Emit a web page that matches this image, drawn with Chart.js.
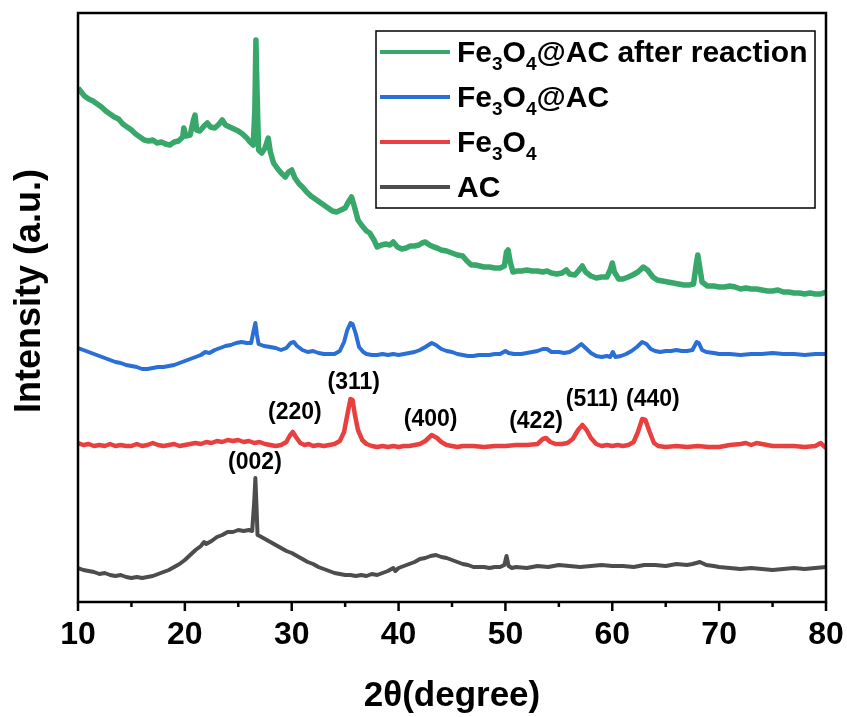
<!DOCTYPE html>
<html><head><meta charset="utf-8">
<script src="https://cdn.jsdelivr.net/npm/chart.js@4.4.1/dist/chart.umd.min.js"></script>
<style>html,body{margin:0;padding:0;background:#fff;}</style>
</head><body>
<canvas id="c" width="847" height="717"></canvas>
<script>
// ---- Data (2θ in degrees, intensity in arbitrary units) ----
const twoThetaAC = [10,10.5,11,11.5,12,12.5,13,13.5,14,14.5,15,15.5,16,16.5,17,17.5,18,18.5,19,19.5,20,20.5,21,21.5,21.8,22,22.5,23,23.5,24,24.5,25,25.5,26,26.3,26.5,26.6,26.7,26.8,27,27.5,28,28.5,29,29.5,30,30.5,31,31.5,32,32.5,33,33.5,34,34.5,35,35.5,36,36.5,37,37.5,38,38.5,39,39.5,39.7,40,40.5,41,41.5,42,42.5,43,43.5,44,44.5,45,45.5,46,46.5,47,47.5,48,48.5,49,49.5,49.9,50.1,50.3,50.6,51,52,53,54,55,56,57,58,59,60,61,62,63,64,65,66,67,67.5,68.2,68.8,69.5,70,71,72,73,74,75,76,77,78,79,80];
const intensityAC = [34,32,31,30,28,29,27,26,27,25,24,25,24,25,26,28,30,32,35,38,42,47,52,56,60,58,61,65,67,70,70,72,71,72,71,102,124,97,67,66,63,60,57,54,51,49,46,43,40,38,35,33,31,29,28,27,27,26,27,26,28,27,29,31,34,31,34,36,38,40,43,44,46,47,45,44,42,40,38,37,35,35,35,34,35,35,37,46,36,34,35,34,36,35,37,36,35,36,37,36,36,35,37,37,36,38,37,38,40,37,36,35,34,33,34,33,32,33,34,33,34,35];

const twoThetaFe3O4 = [10,10.5,11,11.5,12,12.5,13,13.5,14,14.5,15,15.5,16,16.5,17,17.5,18,18.5,19,19.5,20,20.5,21,21.5,22,22.5,23,23.5,24,24.5,25,25.5,26,26.5,27,27.5,28,28.5,29,29.5,29.8,30.1,30.4,30.8,31.2,31.6,32,32.5,33,33.5,34,34.5,34.9,35.2,35.5,35.7,35.9,36.2,36.6,37,37.5,38,38.5,39,39.5,40,40.5,41,41.5,42,42.5,43.1,43.6,44,44.5,45,45.5,46,47,48,49,50,51,52,53,53.5,53.8,54.2,54.7,55.3,55.8,56.3,56.8,57.2,57.6,58,58.5,59,59.5,60,60.5,61,61.5,62,62.4,62.8,63.1,63.5,63.9,64.3,65,66,67,68,69,70,71,72,72.5,73,73.5,74,75,76,77,78,79,79.5,80];
const intensityFe3O4 = [159,157,158,156,157,156,158,156,157,156,156,158,156,157,159,157,156,157,158,156,157,158,159,158,160,159,161,160,162,161,162,160,161,159,160,158,157,156,157,160,166,170,165,159,157,158,156,157,156,157,158,161,170,187,203,202,188,172,162,158,156,155,156,155,156,155,156,156,157,158,161,167,164,160,157,156,155,156,156,155,156,156,157,157,158,163,164,160,158,158,159,163,172,177,172,164,158,156,157,156,157,156,157,160,170,183,182,170,159,156,155,156,155,156,155,155,157,158,159,157,159,158,156,156,156,155,156,159,154];

const twoThetaFe3O4AC = [10,10.5,11,11.5,12,12.5,13,13.5,14,14.5,15,15.5,16,16.5,17,17.5,18,18.5,19,19.5,20,20.5,21,21.5,21.9,22.3,22.8,23.3,23.8,24.3,24.8,25.3,25.8,26.2,26.45,26.6,26.75,26.9,27.4,28,28.5,29,29.5,29.9,30.2,30.5,31,31.5,32,32.5,33,33.5,34,34.5,34.9,35.2,35.5,35.7,36,36.3,36.7,37,37.5,38,38.5,39,39.5,40,40.5,41,41.5,42,42.5,43.1,43.5,44,44.5,45,45.5,46,46.5,47,47.5,48,48.5,49,49.5,50,50.3,50.8,51.5,52,52.5,53,53.5,53.9,54.3,55,55.5,56,56.5,57.1,57.5,58,58.5,59,59.5,59.8,60.05,60.3,60.8,61.3,61.8,62.3,62.8,63.2,63.6,64,64.5,65,65.5,66,66.5,67,67.5,67.9,68.1,68.4,68.8,69.5,70,71,72,73,74,75,76,77,78,79,80];
const intensityFe3O4AC = [254,252,250,248,246,244,242,240,239,237,236,235,233,233,234,235,235,236,237,239,241,243,245,247,250,249,252,254,256,257,259,260,259,259,272,279,267,258,256,255,254,252,254,259,260,256,252,250,251,249,248,248,248,251,260,272,279,278,268,255,250,248,247,247,248,247,248,247,248,249,250,252,255,259,257,253,251,250,248,247,246,246,247,247,247,248,248,251,249,248,248,249,250,251,253,253,250,250,249,250,253,258,254,249,246,245,246,245,250,245,246,248,251,255,260,258,253,251,250,251,251,252,251,251,252,260,259,252,250,249,248,248,247,248,248,249,248,248,247,248,248];

const twoThetaAfter = [10,10.3,10.6,11,11.4,11.8,12.2,12.6,13,13.4,13.8,14.2,14.6,15,15.4,15.8,16.2,16.6,17,17.4,17.8,18.2,18.6,19,19.4,19.8,19.9,20.1,20.5,20.8,20.95,21.1,21.4,21.8,22.1,22.4,22.8,23.2,23.5,23.8,24.2,24.6,25,25.4,25.8,26.1,26.4,26.55,26.65,26.75,26.9,27.2,27.5,27.8,28,28.3,28.7,29.1,29.4,29.7,30,30.3,30.7,31,31.4,31.8,32.2,32.6,33,33.4,33.8,34.2,34.6,35,35.3,35.6,35.9,36.2,36.6,37,37.3,37.7,38,38.4,38.8,39.2,39.5,39.9,40.3,40.7,41.1,41.5,41.9,42.2,42.5,42.9,43.3,43.6,44,44.5,45,45.5,46,46.4,46.8,47.2,47.6,48,48.5,49,49.5,49.9,50.1,50.25,50.45,50.7,51.1,51.5,52,52.5,53,53.5,53.9,54.3,54.8,55.3,55.7,56,56.5,56.9,57.2,57.5,58,58.5,59,59.5,59.8,60,60.2,60.6,61,61.5,61.9,62.4,62.9,63.3,63.8,64.2,64.7,65.2,65.7,66.2,66.7,67.2,67.6,67.85,68,68.15,68.4,68.9,69.5,70,70.5,71,71.5,72,72.5,73,73.5,74,74.5,75,75.5,76,76.5,77,77.5,78,78.5,79,79.5,80];
const intensityAfter = [514,510,506,503,501,498,495,491,488,485,483,478,475,472,468,465,462,461,462,459,460,458,457,460,461,465,474,466,467,482,487,472,471,476,479,475,474,478,482,477,475,473,471,468,464,460,457,492,562,512,452,449,454,464,450,439,433,428,425,430,432,424,418,415,410,406,403,400,397,394,391,390,392,394,400,405,394,382,376,371,369,362,355,357,358,357,360,355,353,354,356,356,357,359,360,357,355,354,352,351,349,347,346,341,337,337,336,335,335,334,334,336,350,352,340,330,331,331,332,331,331,330,331,329,328,329,332,328,327,332,336,330,326,324,325,325,332,339,330,323,323,325,327,330,335,332,325,322,321,320,319,318,317,317,318,337,347,337,320,316,316,315,315,316,315,313,314,313,313,312,311,311,312,310,310,309,309,308,309,308,308,310];

const seriesNames = ['Fe3O4@AC after reaction', 'Fe3O4@AC', 'Fe3O4', 'AC'];
const xTickValues = [10, 20, 30, 40, 50, 60, 70, 80];
const peakLabels = ['(002)', '(220)', '(311)', '(400)', '(422)', '(511)', '(440)'];
const peakLabelTheta = [26.56, 30.3, 35.8, 43.0, 52.86, 58.1, 63.8];
const peakLabelIntensity = [139, 189, 219, 182, 180, 202, 202];
const xTitle = '2θ(degree)';
const yTitle = 'Intensity (a.u.)';

// ---- Styling ----
const FONT = '"Liberation Sans", Arial, Helvetica, sans-serif';
const colors = ['#38a86a', '#2a6fd6', '#e8403f', '#4d4d4d'];
const widths = [5.5, 4, 4.5, 4];

function pts(xs, ys) { return xs.map((x, i) => ({ x: x, y: ys[i] })); }
const seriesData = [
  pts(twoThetaAfter, intensityAfter),
  pts(twoThetaFe3O4AC, intensityFe3O4AC),
  pts(twoThetaFe3O4, intensityFe3O4),
  pts(twoThetaAC, intensityAC)
];

// draw text where digits following letters become subscripts
function drawChem(ctx, text, x, y, size) {
  let cx = x;
  for (let i = 0; i < text.length; i++) {
    const ch = text[i];
    const sub = /[0-9]/.test(ch) && i > 0 && /[A-Za-z]/.test(text[i - 1]);
    if (sub) {
      ctx.font = 'bold ' + Math.round(size * 0.62) + 'px ' + FONT;
      ctx.fillText(ch, cx, y + size * 0.28);
    } else {
      ctx.font = 'bold ' + size + 'px ' + FONT;
      ctx.fillText(ch, cx, y);
    }
    cx += ctx.measureText(ch).width;
  }
}

const decor = {
  id: 'decor',
  afterDatasetsDraw(chart) {
    const ctx = chart.ctx, a = chart.chartArea, xs = chart.scales.x, ys = chart.scales.y;
    ctx.save();
    // frame
    ctx.strokeStyle = '#000'; ctx.lineWidth = 2.5;
    ctx.strokeRect(a.left, a.top, a.right - a.left, a.bottom - a.top);
    // ticks (major + minor, outward)
    for (let v = 10; v <= 80; v += 5) {
      const px = xs.getPixelForValue(v);
      const len = (v % 10 === 0) ? 9 : 5;
      ctx.beginPath(); ctx.moveTo(px, a.bottom); ctx.lineTo(px, a.bottom + len); ctx.stroke();
    }
    // y axis title
    ctx.fillStyle = '#000';
    ctx.save();
    ctx.translate(30, 291); ctx.rotate(-Math.PI / 2);
    ctx.textAlign = 'center'; ctx.textBaseline = 'middle';
    ctx.font = 'bold 36px ' + FONT;
    ctx.fillText(yTitle, 0, 0);
    ctx.restore();
    // peak labels
    ctx.textAlign = 'center'; ctx.textBaseline = 'middle';
    ctx.font = 'bold 23px ' + FONT;
    peakLabels.forEach((t, i) => {
      ctx.fillText(t, xs.getPixelForValue(peakLabelTheta[i]), ys.getPixelForValue(peakLabelIntensity[i]));
    });
    // legend
    ctx.lineWidth = 1.5; ctx.strokeStyle = '#000';
    ctx.strokeRect(376, 31, 439, 177);
    ctx.textAlign = 'left'; ctx.textBaseline = 'alphabetic';
    seriesNames.forEach((name, i) => {
      const y = 52 + i * 45;
      ctx.strokeStyle = colors[i]; ctx.lineWidth = 4;
      ctx.beginPath(); ctx.moveTo(380, y); ctx.lineTo(450, y); ctx.stroke();
      ctx.fillStyle = '#000';
      drawChem(ctx, name, 457, y + 10, 30);
    });
    ctx.restore();
  }
};

new Chart(document.getElementById('c'), {
  type: 'line',
  data: {
    datasets: seriesData.map((d, i) => ({
      label: seriesNames[i], data: d, borderColor: colors[i], backgroundColor: colors[i],
      borderWidth: widths[i], pointRadius: 0, tension: 0, fill: false, borderJoinStyle: 'round'
    }))
  },
  options: {
    responsive: false, animation: false, devicePixelRatio: 1,
    layout: { padding: { left: 0, right: 21, top: 13, bottom: 0 } },
    plugins: { legend: { display: false }, tooltip: { enabled: false } },
    scales: {
      x: {
        type: 'linear', min: 10, max: 80,
        afterBuildTicks: s => { s.ticks = xTickValues.map(v => ({ value: v })); },
        grid: { display: false, drawTicks: false }, border: { display: false },
        ticks: { color: '#000', padding: 14, maxRotation: 0, autoSkip: false, font: { family: FONT, size: 32, weight: 'bold' } },
        title: { display: true, text: xTitle, color: '#000', padding: { top: 0, bottom: 0 }, font: { family: FONT, size: 35, weight: 'bold' } },
        afterFit: s => { s.height = 115; s.paddingLeft = 0; s.paddingRight = 0; }
      },
      y: {
        min: 0, max: 589,
        ticks: { display: false }, grid: { display: false, drawTicks: false }, border: { display: false },
        title: { display: false },
        afterFit: s => { s.width = 78; s.paddingTop = 0; s.paddingBottom = 0; }
      }
    }
  },
  plugins: [decor]
});
</script>
</body></html>
